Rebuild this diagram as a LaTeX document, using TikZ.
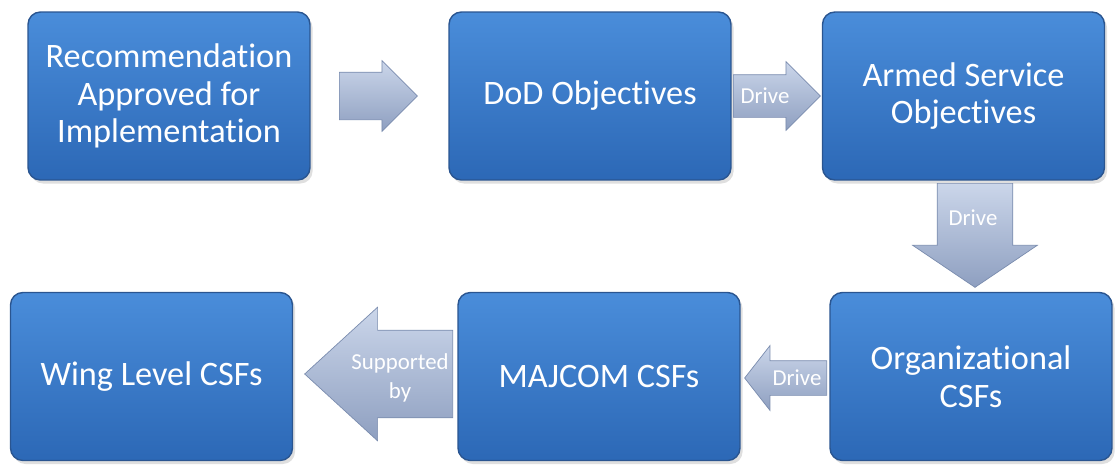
\documentclass[tikz,border=0pt]{standalone}
\usepackage{fontspec}
\setmainfont{Carlito}[Ligatures=NoCommon]
\usepackage{xcolor}
\usetikzlibrary{shapes.arrows,shadows}
\definecolor{boxtop}{HTML}{4A8DDA}
\definecolor{boxbot}{HTML}{2C68B6}
\definecolor{boxline}{HTML}{2A5590}
\definecolor{arrtop}{HTML}{CBD6EA}
\definecolor{arrbot}{HTML}{8E9FC0}
\definecolor{arrline}{HTML}{7A8CAE}
\begin{document}
\begin{tikzpicture}[x=0.02cm,y=-0.02cm,
  box/.style={draw=boxline,line width=0.8pt,rounded corners=7pt,top color=boxtop,bottom color=boxbot,
    text=white,minimum width=5.64cm,minimum height=3.36cm,align=center,
    font=\fontsize{19.5}{21.4}\selectfont,
    drop shadow={opacity=0.25,shadow xshift=1.5pt,shadow yshift=-2pt}},
  arr/.style={single arrow,draw=arrline,line width=0.4pt,top color=arrtop,bottom color=arrbot,
    single arrow head indent=0pt,inner xsep=0pt,anchor=tail},
  lbl/.style={text=white,align=center,font=\fontsize{13}{16.5}\selectfont}]
  \useasboundingbox (0,0) rectangle (1117,464);
  % boxes, top row
  \node[box](rec) at (169,96){Recommendation\\Approved for\\Implementation};
  \node[box](dod) at (590,96){DoD Objectives};
  \node[box](arm) at (963.5,96){Armed Service\\Objectives};
  % boxes, bottom row
  \node[box](org) at (971,376.5){Organizational\\CSFs};
  \node[box](maj) at (599,376.5){MAJCOM CSFs};
  \node[box](wng) at (151.5,376.5){Wing Level CSFs};
  % block arrows
  \node[arr,minimum height=1.56cm,inner ysep=0.47cm,single arrow head extend=0.23cm](a1) at (339,96){};
  \node[arr,minimum height=1.74cm,inner ysep=0.42cm,single arrow head extend=0.26cm](a2) at (733,96){};
  \node[arr,rotate=-90,single arrow tip angle=112,minimum height=2.08cm,inner ysep=0.75cm,single arrow head extend=0.49cm](a3) at (975,183){};
  \node[arr,rotate=180,single arrow tip angle=104,minimum height=1.64cm,inner ysep=0.34cm,single arrow head extend=0.3cm](a4) at (827,378){};
  \node[arr,rotate=180,single arrow tip angle=85,minimum height=2.96cm,inner ysep=0.87cm,single arrow head extend=0.46cm](a5) at (453,374){};
  % arrow labels
  \node[lbl](l2) at (765,96){Drive};
  \node[lbl](l3) at (973,218){Drive};
  \node[lbl](l4) at (797,378){Drive};
  \node[lbl](l5) at (400,378){Supported\\by};
\end{tikzpicture}
\end{document}
